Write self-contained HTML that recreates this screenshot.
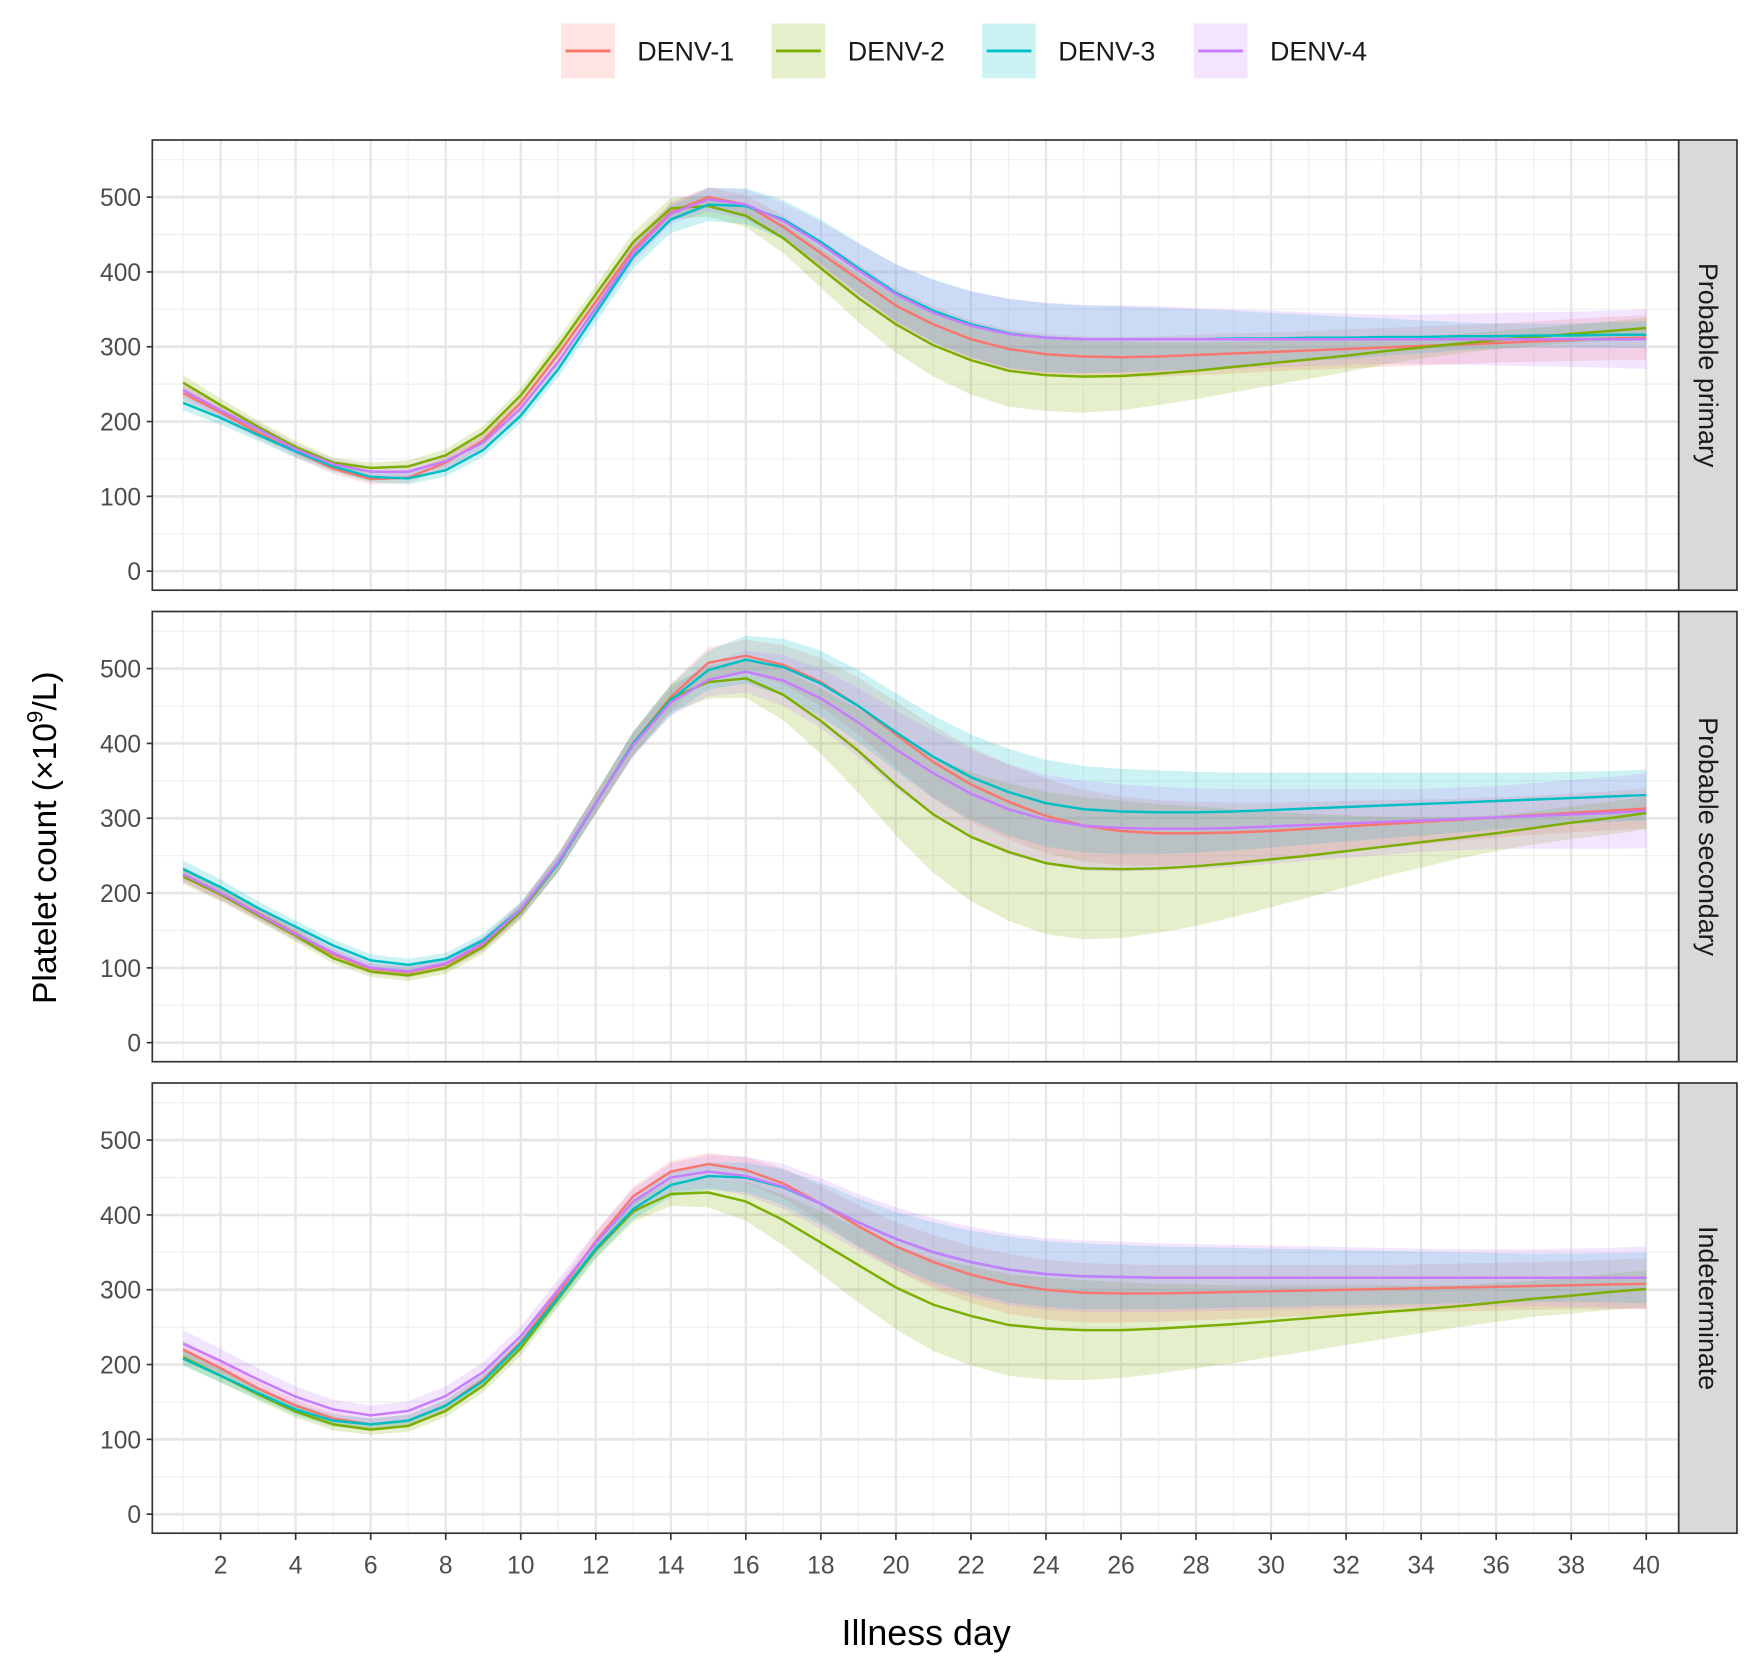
<!DOCTYPE html>
<html><head><meta charset="utf-8">
<style>
html,body{margin:0;padding:0;background:#fff;}
svg{display:block;font-family:"Liberation Sans",Arial,sans-serif;}
</style></head>
<body>
<svg id="chart" width="1756" height="1675" viewBox="0 0 1568 1495.6" preserveAspectRatio="none" xmlns="http://www.w3.org/2000/svg"></svg>
<script>
// ---- data ----
const days = [1,2,3,4,5,6,7,8,9,10,11,12,13,14,15,16,17,18,19,20,21,22,23,24,25,26,27,28,29,30,31,32,33,34,35,36,37,38,39,40];
const seriesNames = ["DENV-1","DENV-2","DENV-3","DENV-4"];
const panelNames = ["Probable primary","Probable secondary","Indeterminate"];
const yTicks = [0,100,200,300,400,500];
const xTicks = [2,4,6,8,10,12,14,16,18,20,22,24,26,28,30,32,34,36,38,40];

// Probable primary
const p1Denv1 = [238,212,185,160,137,123,125,145,175,225,290,360,430,480,500,490,460,425,390,355,330,310,297,290,287,286,287,289,291,293,295,297,299,301,303,305,307,309,311,312];
const p1Denv2 = [252,222,193,166,145,138,140,155,185,235,300,370,440,485,488,475,445,405,365,330,302,282,268,262,260,261,264,268,273,278,283,288,294,299,304,309,313,317,321,325];
const p1Denv3 = [225,205,182,160,140,126,124,135,162,208,270,345,420,470,490,488,470,440,405,372,348,330,318,312,310,310,310,310,311,311,312,312,313,313,314,314,315,315,316,316];
const p1Denv4 = [242,215,190,163,143,133,133,147,172,218,280,352,425,478,497,490,468,437,402,370,345,328,317,312,310,310,310,310,310,310,310,310,310,310,310,310,310,310,310,310];
// Probable secondary
const p2Denv1 = [225,200,173,146,118,99,94,105,131,176,240,320,400,462,508,517,505,482,450,412,375,345,322,303,290,283,280,280,281,283,286,289,292,295,298,301,304,307,310,313];
const p2Denv2 = [222,198,170,143,113,95,90,100,128,175,240,320,400,460,482,487,465,430,390,345,305,275,255,240,233,232,233,236,240,245,250,256,262,268,274,280,287,294,300,307];
const p2Denv3 = [232,208,180,155,130,110,104,112,137,178,240,320,400,458,498,512,502,480,450,415,382,355,335,320,312,309,308,308,309,311,313,315,317,319,321,323,325,327,329,331];
const p2Denv4 = [225,200,172,145,120,100,95,106,133,178,242,320,398,455,485,496,484,460,428,392,360,333,312,298,290,287,286,286,287,289,291,293,295,297,299,301,303,305,307,310];
// Indeterminate
const p3Denv1 = [220,195,168,145,128,120,125,145,180,230,295,365,425,458,468,460,442,415,385,358,337,320,308,300,296,295,295,296,297,298,299,300,301,302,303,304,305,306,307,308];
const p3Denv2 = [210,185,160,137,120,113,118,138,172,222,288,353,405,428,430,418,393,363,333,303,280,265,253,248,246,246,248,251,254,258,262,266,270,274,278,283,288,292,297,301];
const p3Denv3 = [208,185,162,140,125,120,125,145,178,228,290,355,408,440,452,450,437,415,390,368,350,337,327,321,318,317,316,316,316,316,316,316,316,316,316,316,316,316,316,316];
const p3Denv4 = [228,205,180,157,140,132,138,158,190,238,300,363,418,450,458,452,438,415,390,368,350,337,327,321,318,317,316,316,316,316,316,316,316,316,316,316,316,316,316,316];

// band half-widths (standard error * 1.96)
const p1Se1 = [10,9,8,8,7,7,7,8,9,10,11,12,13,13,13,13,15,17,20,22,24,25,26,27,27,27,27,27,27,26,26,26,26,26,26,26,27,28,29,30];
const p1Se2 = [10,9,8,8,7,7,8,8,9,10,11,12,13,14,14,15,20,26,32,38,42,46,48,48,48,46,42,38,34,30,26,22,18,15,13,12,12,12,13,14];
const p1Se3 = [10,9,8,8,7,7,8,8,9,10,11,13,15,18,22,24,26,30,34,38,42,44,46,46,45,44,42,40,37,34,31,28,25,22,19,17,16,16,17,18];
const p1Se4 = [10,9,8,8,7,7,7,8,9,10,11,12,13,14,16,20,24,30,36,40,44,46,47,47,46,45,44,42,40,38,36,34,33,33,34,35,36,37,38,40];
const p2Se1 = [10,9,8,8,7,7,7,8,9,10,12,14,16,18,20,22,26,32,38,44,48,50,50,50,48,46,44,42,40,38,36,34,32,30,28,27,26,26,26,27];
const p2Se2 = [10,9,8,8,7,7,8,8,9,10,12,14,16,18,22,26,34,44,56,68,78,86,92,95,95,92,86,80,72,64,56,48,40,34,28,24,22,22,22,22];
const p2Se3 = [12,10,9,8,8,8,8,8,9,10,12,14,16,20,26,32,38,44,48,52,55,57,58,58,58,57,56,54,52,50,48,46,44,42,40,38,36,35,34,34];
const p2Se4 = [10,9,8,8,7,7,7,8,9,10,12,14,16,18,22,28,34,40,46,52,56,58,60,60,60,58,56,54,52,50,48,46,44,42,42,42,44,46,48,50];
const p3Se1 = [12,10,9,8,8,8,8,8,9,10,11,12,13,14,15,17,20,24,28,32,36,38,40,40,40,39,38,37,36,35,34,33,32,32,32,32,32,32,33,34];
const p3Se2 = [10,9,8,8,8,7,8,8,9,10,11,12,14,16,20,26,34,42,50,56,62,66,68,68,67,64,60,56,52,48,44,40,36,32,28,26,24,24,24,25];
const p3Se3 = [10,9,8,8,8,8,8,8,9,10,11,12,14,16,18,20,24,28,32,36,40,42,44,44,44,43,42,41,40,39,38,37,36,35,34,33,32,32,33,34];
const p3Se4 = [18,16,15,14,13,13,13,13,13,13,14,15,17,19,22,26,30,34,38,42,45,47,48,48,48,47,46,45,44,43,42,41,40,39,38,38,38,39,40,42];

const panelSeries = [[p1Denv1,p1Denv2,p1Denv3,p1Denv4],[p2Denv1,p2Denv2,p2Denv3,p2Denv4],[p3Denv1,p3Denv2,p3Denv3,p3Denv4]];
const panelSe = [[p1Se1,p1Se2,p1Se3,p1Se4],[p2Se1,p2Se2,p2Se3,p2Se4],[p3Se1,p3Se2,p3Se3,p3Se4]];

// ---- layout ----
const colors = ["#F8766D","#7CAE00","#00BFC4","#C77CFF"];
const NS = "http://www.w3.org/2000/svg";
const svg = document.getElementById("chart");
const L = 136, R = 1499, stripW = 52;
const panelTops = [125,546,967], panelH = 402;
function xs(d){ return 163.5 + (d-1)*33.5; }
function ys(v,p){ return panelTops[p] + 385 - v*0.668; }
function mk(tag, attrs, parent){
  const e = document.createElementNS(NS, tag);
  for (const k in attrs) e.setAttribute(k, attrs[k]);
  (parent||svg).appendChild(e);
  return e;
}

// legend
const legX = [501,689,877,1066];
for (let i=0;i<4;i++){
  const g = mk("g",{});
  
  
  mk("rect",{x:legX[i],y:21,width:48,height:49,fill:colors[i],"fill-opacity":0.2},g);
  mk("line",{x1:legX[i]+4,x2:legX[i]+44,y1:45.5,y2:45.5,stroke:colors[i],"stroke-width":2.5},g);
  const t = mk("text",{x:legX[i]+68,y:54,"font-size":24,fill:"#1a1a1a"},g);
  t.textContent = seriesNames[i];
}

for (let p=0;p<3;p++){
  const top = panelTops[p];
  const g = mk("g",{});
  
  
  mk("rect",{x:L,y:top,width:R-L,height:panelH,fill:"#fff"},g);
  // grid
  for (let v=50; v<=550; v+=100) mk("line",{x1:L,x2:R,y1:ys(v,p),y2:ys(v,p),stroke:"#f0f0f0","stroke-width":1.2},g);
  for (let d=1; d<=41; d+=2) if (xs(d)<R) mk("line",{x1:xs(d),x2:xs(d),y1:top,y2:top+panelH,stroke:"#f0f0f0","stroke-width":1.2},g);
  for (const v of yTicks) mk("line",{x1:L,x2:R,y1:ys(v,p),y2:ys(v,p),stroke:"#e6e6e6","stroke-width":2.4},g);
  for (const d of xTicks) mk("line",{x1:xs(d),x2:xs(d),y1:top,y2:top+panelH,stroke:"#e6e6e6","stroke-width":2},g);
  // bands
  for (let s=0;s<4;s++){
    const vals = panelSeries[p][s], se = panelSe[p][s];
    let d = "";
    days.forEach((dd,i)=>{ d += (i?"L":"M") + xs(dd).toFixed(1) + "," + ys(vals[i]+se[i],p).toFixed(1); });
    for (let i=days.length-1;i>=0;i--) d += "L" + xs(days[i]).toFixed(1) + "," + ys(vals[i]-se[i],p).toFixed(1);
    const band = mk("path",{d:d+"Z",fill:colors[s],"fill-opacity":0.2,stroke:"none"},g);
    
    
  }
  // lines
  for (let s=0;s<4;s++){
    const vals = panelSeries[p][s];
    const pts = days.map((dd,i)=>xs(dd).toFixed(1)+","+ys(vals[i],p).toFixed(1)).join(" ");
    const ln = mk("polyline",{points:pts,fill:"none",stroke:colors[s],"stroke-width":2.2},g);
    
    
  }
  mk("rect",{x:L,y:top,width:R-L,height:panelH,fill:"none",stroke:"#333","stroke-width":1.5},g);
  // y ticks
  for (const v of yTicks){
    mk("line",{x1:L-5,x2:L,y1:ys(v,p),y2:ys(v,p),stroke:"#333","stroke-width":1.5},g);
    const t = mk("text",{x:L-10,y:ys(v,p)+8,"font-size":22,fill:"#4d4d4d","text-anchor":"end"},g);
    t.textContent = v;
  }
  // strip
  const st = mk("g",{});
  
  
  mk("rect",{x:R,y:top,width:stripW,height:panelH,fill:"#d9d9d9",stroke:"#333","stroke-width":1.5},st);
  const t = mk("text",{x:0,y:0,"font-size":24,fill:"#1a1a1a","text-anchor":"middle",transform:`translate(${R+stripW/2-8},${top+panelH/2}) rotate(90)`},st);
  t.textContent = panelNames[p];
}

// x axis ticks
const bottom = panelTops[2]+panelH;
for (const d of xTicks){
  mk("line",{x1:xs(d),x2:xs(d),y1:bottom,y2:bottom+6,stroke:"#333","stroke-width":1.5});
  const t = mk("text",{x:xs(d),y:bottom+36,"font-size":22,fill:"#4d4d4d","text-anchor":"middle"});
  t.textContent = d;
}
const xt = mk("text",{x:827,y:1469,"font-size":32,fill:"#000","text-anchor":"middle"});


xt.textContent = "Illness day";
const yt = mk("text",{x:0,y:0,"font-size":30,fill:"#000","text-anchor":"middle",transform:"translate(50,748) rotate(-90)"});


yt.innerHTML = 'Platelet count (×10<tspan dy="-12" font-size="20">9</tspan><tspan dy="12">/L)</tspan>';
</script>
</body></html>
